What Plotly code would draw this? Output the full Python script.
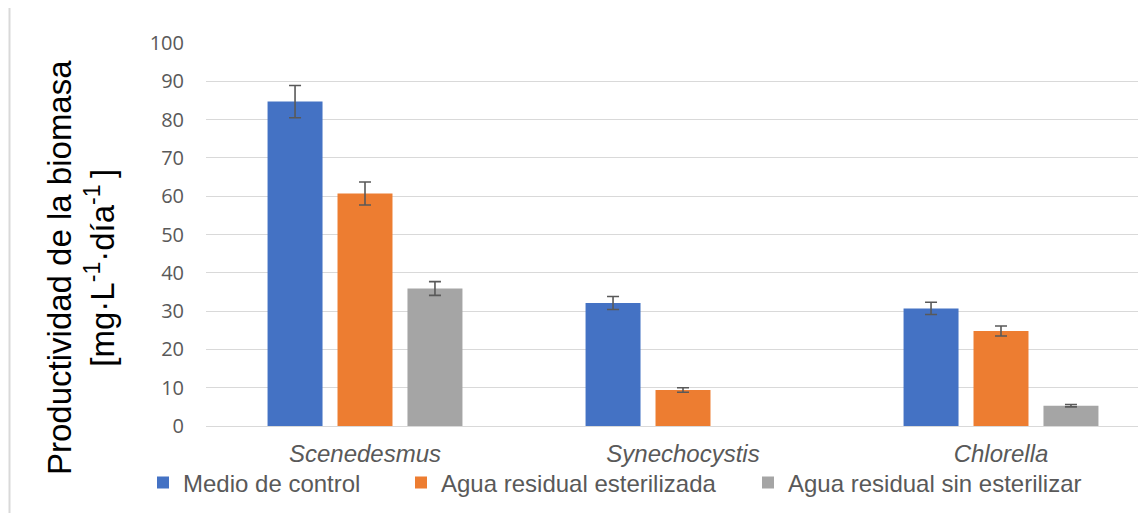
import plotly.graph_objects as go

categories = ["Scenedesmus", "Synechocystis", "Chlorella"]
series_names = ["Medio de control", "Agua residual esterilizada", "Agua residual sin esterilizar"]
control = [84.7, 32.1, 30.7]
control_err = [4.2, 1.7, 1.6]
esterilizada = [60.7, 9.4, 24.8]
esterilizada_err = [3.0, 0.6, 1.3]
sin_esterilizar = [35.9, None, 5.3]
sin_esterilizar_err = [1.8, None, 0.3]
y_ticks = [0, 10, 20, 30, 40, 50, 60, 70, 80, 90, 100]

colors = ["#4472C4", "#ED7D31", "#A5A5A5"]
values = [control, esterilizada, sin_esterilizar]
errors = [control_err, esterilizada_err, sin_esterilizar_err]
legend_ids = ["legend", "legend2", "legend3"]

# page body has an 8px default margin; work in screen pixels and subtract it
O = 8
W, H = 1146, 513
plot_left, plot_top, plot_bottom, plot_right = 206 - O, 43 - O, 426 - O, 1146 - O
L, T = plot_left, plot_top
R = W - plot_right
B = H - plot_bottom
pw = plot_right - plot_left
ph = plot_bottom - plot_top

def px_x(p):
    return (p - O - L) / pw

def px_y(p):
    return (plot_bottom - (p - O)) / ph

fig = go.Figure()
for name, vals, errs, col, lg in zip(series_names, values, errors, colors, legend_ids):
    fig.add_trace(go.Bar(
        x=categories, y=vals, name=name,
        marker=dict(color=col, line=dict(width=0)),
        error_y=dict(type="data", array=errs, visible=True,
                     color="#595959", thickness=1.6, width=6),
        legend=lg,
    ))

legend_font = dict(family="Liberation Sans, Arial, sans-serif", size=24, color="#595959")
leg_common = dict(orientation="h", yanchor="middle", xanchor="left",
                  xref="container", yref="container",
                  font=legend_font, bgcolor="rgba(0,0,0,0)", borderwidth=0,
                  itemclick=False)
text_starts = [184, 442, 789]

layout_legends = {}
for lg, ts in zip(legend_ids, text_starts):
    layout_legends[lg] = dict(x=(ts - O - 41) / W, y=1 - (483 - O) / H, **leg_common)

fig.update_layout(
    width=W, height=H,
    margin=dict(l=L, r=R, t=T, b=B, pad=0, autoexpand=False),
    paper_bgcolor="white", plot_bgcolor="white",
    barmode="group", bargap=0.34, bargroupgap=0.214,
    showlegend=True,
    **layout_legends,
    xaxis=dict(
        type="category", range=[-0.5, -0.5 + pw / 318.0],
        showgrid=False, showline=False, zeroline=False, ticks="",
        tickfont=dict(family="Liberation Sans, Arial, sans-serif", size=24,
                      color="#595959", style="italic"),
        ticklabelstandoff=11, automargin=False,
    ),
    yaxis=dict(
        range=[0, 100], tickvals=y_ticks,
        showgrid=True, gridcolor="#D9D9D9", gridwidth=1.3,
        zeroline=True, zerolinecolor="#D9D9D9", zerolinewidth=1.3,
        showline=False, ticks="",
        tickfont=dict(family="Open Sans, sans-serif", size=20, color="#595959"),
        ticklabelstandoff=21, automargin=False,
    ),
    annotations=[dict(
        text="Productividad de la biomasa<br>[mg·L<sup>-1</sup>·día<sup>-1 </sup>]",
        xref="paper", yref="paper", x=px_x(81), y=px_y(268),
        xanchor="center", yanchor="middle", textangle=-90, showarrow=False,
        font=dict(family="Liberation Sans, Arial, sans-serif", size=33, color="black"),
    )],
    shapes=[dict(type="line", xref="paper", yref="paper",
                 x0=px_x(9.5), x1=px_x(9.5), y0=px_y(H + 20), y1=px_y(-20),
                 line=dict(color="#D9D9D9", width=2))],
)

fig.write_html("out.html")
